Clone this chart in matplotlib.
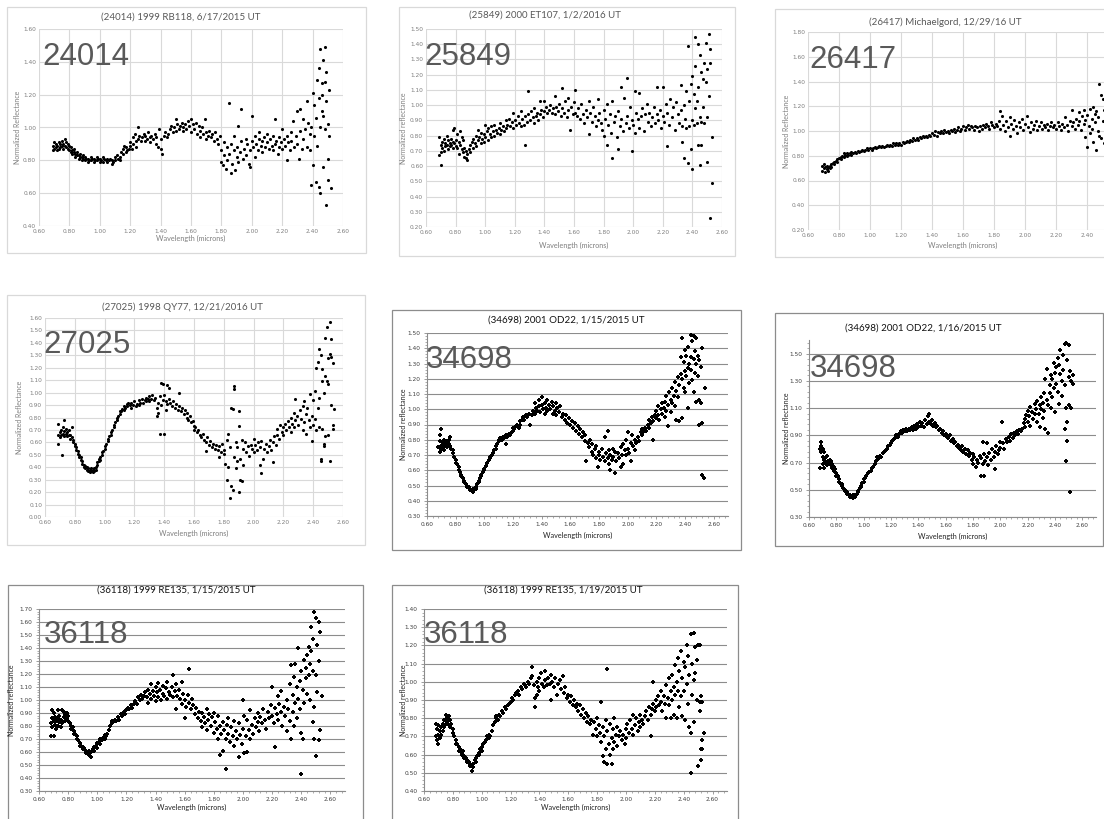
import numpy as np
import matplotlib
matplotlib.use("Agg")
import matplotlib.pyplot as plt
from matplotlib.patches import Rectangle

# ---------------------------------------------------------------------------
# Reflectance spectra (wavelength in microns, normalized reflectance)
# ---------------------------------------------------------------------------
obs_24014 = [
    (0.69,0.89),(0.69,0.86),(0.70,0.91),(0.70,0.87),(0.71,0.88),(0.71,0.90),(0.72,0.86),(0.72,0.89),(0.73,0.91),(0.73,0.87),
    (0.74,0.88),(0.74,0.90),(0.75,0.89),(0.75,0.92),(0.76,0.90),(0.76,0.87),(0.77,0.93),(0.77,0.89),(0.78,0.91),(0.78,0.88),
    (0.79,0.90),(0.79,0.87),(0.80,0.89),(0.80,0.86),(0.81,0.88),(0.81,0.85),(0.82,0.86),(0.82,0.84),(0.83,0.85),(0.83,0.87),
    (0.84,0.84),(0.84,0.82),(0.85,0.83),(0.85,0.85),(0.86,0.83),(0.86,0.81),(0.87,0.82),(0.87,0.84),(0.88,0.82),(0.88,0.80),
    (0.89,0.81),(0.89,0.83),(0.90,0.80),(0.90,0.82),(0.91,0.81),(0.92,0.79),(0.92,0.81),(0.93,0.80),(0.94,0.82),(0.94,0.80),
    (0.95,0.81),(0.96,0.79),(0.96,0.81),(0.97,0.80),(0.98,0.82),(0.98,0.80),(0.99,0.81),(1.00,0.79),(1.00,0.81),(1.01,0.80),
    (1.02,0.82),(1.02,0.79),(1.03,0.81),(1.04,0.80),(1.05,0.81),(1.05,0.79),(1.06,0.80),(1.07,0.81),(1.08,0.78),(1.08,0.80),
    (1.09,0.79),(1.10,0.82),(1.10,0.80),(1.11,0.83),(1.12,0.81),(1.13,0.82),(1.13,0.80),(1.14,0.85),(1.15,0.84),(1.15,0.87),
    (1.16,0.89),(1.17,0.85),(1.17,0.88),(1.18,0.86),(1.19,0.87),(1.20,0.89),(1.20,0.91),(1.21,0.87),(1.22,0.94),(1.22,0.90),
    (1.23,0.96),(1.24,0.92),(1.24,0.88),(1.25,1.00),(1.25,0.93),(1.26,0.95),(1.27,0.92),(1.28,0.94),(1.29,0.96),(1.30,0.92),
    (1.30,0.95),(1.31,0.93),(1.32,0.97),(1.33,0.94),(1.33,0.91),(1.34,0.95),(1.35,0.93),(1.36,0.96),(1.37,0.94),(1.37,0.90),
    (1.38,0.88),(1.39,0.99),(1.40,0.87),(1.40,0.93),(1.41,0.84),(1.42,0.95),(1.43,0.97),(1.44,0.94),(1.45,0.96),(1.46,0.99),
    (1.47,1.01),(1.48,0.97),(1.49,1.00),(1.50,1.05),(1.50,0.98),(1.51,1.02),(1.52,0.99),(1.53,1.01),(1.54,1.03),(1.55,0.98),
    (1.55,1.00),(1.56,1.02),(1.57,0.99),(1.58,1.04),(1.59,1.01),(1.60,1.05),(1.60,0.97),(1.61,1.02),(1.62,0.99),(1.63,1.03),
    (1.64,0.96),(1.65,1.01),(1.66,0.98),(1.66,0.94),(1.67,1.00),(1.68,0.96),(1.69,1.05),(1.70,0.97),(1.70,0.93),(1.71,0.95),
    (1.72,0.98),(1.73,0.94),(1.74,0.96),(1.75,0.92),(1.76,0.97),(1.77,0.93),(1.78,0.90),(1.79,0.95),(1.80,0.79),(1.80,0.86),
    (1.81,0.77),(1.82,0.83),(1.82,0.91),(1.83,0.75),(1.84,0.88),(1.84,0.80),(1.85,1.15),(1.85,0.84),(1.86,0.72),(1.86,0.90),
    (1.87,0.78),(1.88,0.86),(1.88,0.95),(1.89,0.74),(1.90,0.82),(1.90,0.88),(1.91,1.01),(1.91,0.79),(1.92,0.85),(1.93,0.92),
    (1.93,1.11),(1.94,0.81),(1.95,0.87),(1.96,0.83),(1.96,0.93),(1.97,0.90),(1.98,0.78),(1.99,0.86),(1.99,0.76),(2.00,1.07),
    (2.00,0.92),(2.01,0.88),(2.02,0.95),(2.02,0.82),(2.03,0.90),(2.04,0.86),(2.05,0.93),(2.05,0.97),(2.06,0.89),(2.07,0.92),
    (2.07,0.85),(2.08,0.94),(2.09,0.88),(2.10,0.91),(2.10,0.96),(2.11,0.87),(2.12,0.93),(2.13,0.89),(2.14,0.95),(2.14,0.86),
    (2.15,1.05),(2.15,0.90),(2.16,0.92),(2.17,0.84),(2.18,0.94),(2.18,0.88),(2.19,0.91),(2.20,0.99),(2.20,0.87),(2.21,0.93),
    (2.22,0.89),(2.23,0.80),(2.23,0.95),(2.24,0.91),(2.25,0.86),(2.26,0.97),(2.26,0.92),(2.27,1.04),(2.28,0.88),(2.29,0.95),
    (2.30,1.10),(2.30,0.90),(2.31,0.81),(2.32,0.98),(2.32,1.11),(2.33,0.87),(2.34,1.05),(2.34,0.93),(2.35,0.99),(2.36,1.16),
    (2.36,0.88),(2.37,1.03),(2.38,0.96),(2.38,0.86),(2.39,0.65),(2.39,1.00),(2.40,0.77),(2.40,1.21),(2.41,0.95),(2.41,1.14),
    (2.42,0.67),(2.42,1.06),(2.43,1.29),(2.43,0.89),(2.44,1.36),(2.44,1.18),(2.44,0.64),(2.45,1.48),(2.45,1.00),(2.45,0.60),
    (2.46,1.27),(2.46,1.10),(2.46,1.20),(2.47,1.41),(2.47,1.07),(2.47,0.76),(2.48,1.49),(2.48,1.28),(2.48,0.99),(2.49,0.53),
    (2.49,1.34),(2.49,1.16),(2.50,0.68),(2.50,1.02),(2.50,0.81),(2.51,1.23),(2.51,0.95),(2.52,0.63),
]

obs_25849 = [
    (0.69,0.79),(0.69,0.67),(0.70,0.74),(0.70,0.61),(0.70,0.69),(0.71,0.76),(0.71,0.72),(0.72,0.78),(0.72,0.70),(0.73,0.75),
    (0.73,0.73),(0.74,0.80),(0.74,0.74),(0.75,0.77),(0.75,0.71),(0.76,0.75),(0.76,0.73),(0.77,0.78),(0.77,0.74),(0.78,0.84),
    (0.78,0.76),(0.78,0.72),(0.79,0.85),(0.79,0.75),(0.80,0.73),(0.80,0.77),(0.81,0.81),(0.81,0.72),(0.82,0.76),(0.82,0.68),
    (0.83,0.83),(0.83,0.74),(0.84,0.79),(0.84,0.71),(0.85,0.69),(0.85,0.77),(0.86,0.66),(0.86,0.72),(0.87,0.65),(0.87,0.70),
    (0.88,0.64),(0.88,0.68),(0.89,0.71),(0.90,0.74),(0.90,0.69),(0.91,0.76),(0.92,0.72),(0.92,0.78),(0.93,0.75),(0.94,0.80),
    (0.94,0.73),(0.95,0.84),(0.95,0.77),(0.96,0.79),(0.97,0.75),(0.97,0.82),(0.98,0.78),(0.99,0.81),(0.99,0.76),(1.00,0.87),
    (1.00,0.79),(1.01,0.83),(1.02,0.77),(1.02,0.85),(1.03,0.81),(1.04,0.79),(1.04,0.86),(1.05,0.83),(1.06,0.80),(1.06,0.87),
    (1.07,0.84),(1.08,0.82),(1.09,0.85),(1.10,0.81),(1.10,0.88),(1.11,0.84),(1.12,0.86),(1.13,0.83),(1.14,0.90),(1.14,0.85),
    (1.15,0.87),(1.16,0.91),(1.17,0.86),(1.18,0.89),(1.19,0.95),(1.19,0.85),(1.20,0.90),(1.21,0.87),(1.22,0.93),(1.23,0.88),
    (1.24,0.96),(1.24,0.86),(1.25,0.91),(1.26,0.87),(1.27,0.74),(1.27,0.93),(1.28,0.89),(1.29,1.09),(1.29,0.94),(1.30,0.90),
    (1.31,0.96),(1.32,0.92),(1.33,0.88),(1.33,0.98),(1.34,0.93),(1.35,0.95),(1.36,0.90),(1.37,1.03),(1.37,0.94),(1.38,0.97),
    (1.39,0.92),(1.40,1.03),(1.40,0.96),(1.41,0.99),(1.42,0.95),(1.43,0.97),(1.44,1.00),(1.45,0.95),(1.46,0.98),(1.47,1.06),
    (1.47,0.94),(1.48,0.99),(1.49,0.96),(1.50,1.01),(1.51,0.93),(1.52,1.11),(1.52,0.98),(1.53,0.95),(1.54,1.03),(1.55,0.92),
    (1.56,1.05),(1.56,0.97),(1.57,0.84),(1.58,0.99),(1.59,0.94),(1.60,1.02),(1.61,1.10),(1.61,0.95),(1.62,0.93),(1.63,0.98),
    (1.64,0.91),(1.65,1.01),(1.66,0.94),(1.67,0.88),(1.68,0.97),(1.69,0.92),(1.70,1.03),(1.70,0.81),(1.71,0.95),(1.72,0.89),
    (1.73,0.99),(1.74,0.93),(1.75,0.86),(1.76,1.04),(1.76,0.90),(1.77,0.95),(1.78,0.88),(1.79,0.84),(1.80,0.97),(1.80,0.80),
    (1.81,0.91),(1.82,0.74),(1.82,1.01),(1.83,0.87),(1.84,0.94),(1.85,0.82),(1.86,1.03),(1.86,0.65),(1.87,0.89),(1.88,0.93),
    (1.89,0.79),(1.90,0.96),(1.90,0.71),(1.91,0.86),(1.92,1.12),(1.92,0.91),(1.93,0.83),(1.94,1.05),(1.95,0.88),(1.96,1.18),
    (1.96,0.93),(1.97,0.85),(1.98,0.99),(1.99,0.70),(1.99,0.90),(2.00,0.87),(2.01,1.09),(2.01,0.82),(2.02,0.95),(2.03,0.91),
    (2.04,1.08),(2.04,0.85),(2.05,0.93),(2.06,0.98),(2.07,0.83),(2.08,0.94),(2.09,1.01),(2.10,0.89),(2.11,0.95),(2.12,0.86),
    (2.13,0.92),(2.14,0.99),(2.15,0.88),(2.16,1.12),(2.16,0.94),(2.17,0.90),(2.18,0.97),(2.19,0.85),(2.20,1.12),(2.20,0.93),
    (2.21,0.89),(2.22,1.01),(2.23,0.73),(2.23,0.95),(2.24,0.87),(2.25,1.04),(2.26,0.92),(2.27,0.99),(2.28,0.84),(2.29,1.02),
    (2.30,0.94),(2.31,0.88),(2.32,1.13),(2.32,0.97),(2.33,0.76),(2.33,0.86),(2.34,0.65),(2.34,1.00),(2.35,0.91),(2.36,1.09),
    (2.36,0.85),(2.37,1.39),(2.37,0.62),(2.38,1.03),(2.38,0.86),(2.39,1.14),(2.39,0.71),(2.40,0.58),(2.40,1.19),(2.40,0.90),
    (2.41,1.07),(2.41,0.87),(2.42,1.45),(2.42,1.26),(2.42,0.98),(2.43,1.03),(2.43,0.88),(2.44,1.40),(2.44,0.74),(2.44,1.12),
    (2.45,0.61),(2.45,1.33),(2.45,0.92),(2.46,1.22),(2.46,0.89),(2.46,0.74),(2.47,1.17),(2.47,0.99),(2.48,1.28),(2.48,0.88),
    (2.49,1.41),(2.49,1.15),(2.50,0.63),(2.50,1.24),(2.50,0.92),(2.51,1.47),(2.51,1.06),(2.52,1.37),(2.52,0.26),(2.52,1.28),
    (2.53,0.79),(2.53,0.49),
]

obs_26417 = [
    (0.69,0.68),(0.69,0.72),(0.70,0.70),(0.70,0.73),(0.71,0.67),(0.71,0.71),(0.72,0.69),(0.72,0.72),(0.73,0.71),(0.73,0.68),
    (0.74,0.72),(0.74,0.70),(0.75,0.73),(0.75,0.71),(0.76,0.74),(0.77,0.73),(0.77,0.75),(0.78,0.76),(0.79,0.75),(0.79,0.77),
    (0.80,0.78),(0.81,0.77),(0.81,0.79),(0.82,0.80),(0.83,0.79),(0.83,0.82),(0.84,0.81),(0.85,0.80),(0.85,0.82),(0.86,0.81),
    (0.87,0.82),(0.88,0.81),(0.88,0.83),(0.89,0.82),(0.90,0.83),(0.91,0.82),(0.92,0.84),(0.93,0.83),(0.94,0.84),(0.95,0.85),
    (0.96,0.84),(0.97,0.85),(0.98,0.86),(0.99,0.85),(1.00,0.86),(1.01,0.85),(1.02,0.86),(1.03,0.87),(1.04,0.86),(1.05,0.87),
    (1.06,0.88),(1.07,0.87),(1.08,0.88),(1.09,0.87),(1.10,0.88),(1.11,0.89),(1.12,0.88),(1.13,0.89),(1.14,0.88),(1.15,0.90),
    (1.16,0.89),(1.17,0.90),(1.18,0.89),(1.19,0.90),(1.20,0.89),(1.21,0.91),(1.22,0.90),(1.23,0.91),(1.24,0.92),(1.25,0.91),
    (1.26,0.93),(1.27,0.92),(1.28,0.94),(1.29,0.93),(1.30,0.94),(1.31,0.93),(1.32,0.95),(1.33,0.94),(1.34,0.96),(1.35,0.95),
    (1.36,0.96),(1.37,0.95),(1.38,0.97),(1.39,0.96),(1.40,0.98),(1.41,0.97),(1.42,1.00),(1.43,0.96),(1.44,0.99),(1.45,0.98),
    (1.46,1.00),(1.47,0.98),(1.48,1.01),(1.49,0.99),(1.50,1.00),(1.51,0.98),(1.52,1.01),(1.53,1.00),(1.54,1.02),(1.55,0.99),
    (1.56,1.01),(1.57,1.03),(1.58,1.00),(1.59,1.02),(1.60,1.04),(1.61,1.01),(1.62,1.03),(1.63,1.05),(1.64,1.02),(1.65,1.04),
    (1.66,1.03),(1.67,1.01),(1.68,1.04),(1.69,1.03),(1.70,1.00),(1.71,1.04),(1.72,1.02),(1.73,1.05),(1.74,1.03),(1.75,1.06),
    (1.76,1.04),(1.77,1.02),(1.78,1.07),(1.79,1.05),(1.80,1.03),(1.81,1.06),(1.82,1.04),(1.83,1.08),(1.84,1.16),(1.84,1.02),
    (1.85,1.12),(1.86,1.05),(1.87,1.00),(1.88,1.08),(1.89,1.03),(1.90,1.11),(1.90,0.96),(1.91,1.06),(1.92,1.02),(1.93,1.09),
    (1.94,1.04),(1.95,0.98),(1.96,1.07),(1.97,1.03),(1.98,1.10),(1.99,1.01),(2.00,1.06),(2.01,1.12),(2.02,1.03),(2.03,0.99),
    (2.04,1.07),(2.05,1.02),(2.06,1.05),(2.07,1.08),(2.08,1.01),(2.09,1.04),(2.10,1.07),(2.11,1.02),(2.12,1.05),(2.13,1.03),
    (2.14,1.06),(2.15,1.01),(2.16,1.04),(2.17,1.07),(2.18,1.03),(2.19,1.05),(2.20,1.02),(2.21,1.07),(2.22,1.04),(2.23,1.01),
    (2.24,1.06),(2.25,1.03),(2.26,1.11),(2.27,1.05),(2.28,1.00),(2.29,1.08),(2.30,1.17),(2.30,1.04),(2.31,1.07),(2.32,1.02),
    (2.33,1.10),(2.34,1.05),(2.35,1.15),(2.35,1.08),(2.36,1.01),(2.37,1.12),(2.38,1.06),(2.38,1.17),(2.39,0.95),(2.39,1.09),
    (2.40,0.87),(2.40,1.13),(2.41,1.04),(2.42,1.18),(2.42,0.98),(2.43,1.10),(2.43,1.02),(2.44,1.19),(2.44,0.91),(2.45,1.07),
    (2.45,1.14),(2.46,0.85),(2.46,1.16),(2.47,1.00),(2.47,1.11),(2.48,1.38),(2.48,0.96),(2.49,1.29),(2.49,0.94),(2.50,1.26),
    (2.50,1.08),(2.51,1.17),(2.51,0.90),(2.52,1.20),(2.52,0.96),(2.53,0.79),(2.53,0.67),(2.52,0.45),
]

obs_27025 = [
    (0.69,0.75),(0.69,0.66),(0.69,0.59),(0.70,0.68),(0.70,0.64),(0.71,0.70),(0.71,0.66),(0.715,0.50),(0.72,0.72),(0.72,0.67),
    (0.73,0.78),(0.73,0.69),(0.73,0.65),(0.74,0.71),(0.74,0.67),(0.75,0.68),(0.75,0.65),(0.76,0.70),(0.76,0.66),(0.77,0.66),
    (0.77,0.63),(0.78,0.72),(0.78,0.64),(0.79,0.62),(0.79,0.60),(0.80,0.59),(0.80,0.57),(0.81,0.56),(0.81,0.54),(0.82,0.53),
    (0.82,0.51),(0.83,0.50),(0.83,0.48),(0.84,0.48),(0.84,0.46),(0.85,0.45),(0.85,0.43),(0.86,0.42),(0.86,0.40),(0.87,0.41),
    (0.87,0.39),(0.88,0.40),(0.88,0.38),(0.89,0.39),(0.89,0.37),(0.90,0.38),(0.90,0.36),(0.91,0.39),(0.91,0.37),(0.92,0.38),
    (0.92,0.36),(0.93,0.39),(0.93,0.37),(0.94,0.40),(0.94,0.38),(0.95,0.42),(0.95,0.44),(0.96,0.45),(0.96,0.47),(0.97,0.48),
    (0.97,0.46),(0.98,0.50),(0.98,0.52),(0.99,0.53),(1.00,0.55),(1.00,0.57),(1.01,0.59),(1.02,0.61),(1.02,0.63),(1.03,0.65),
    (1.04,0.66),(1.04,0.68),(1.05,0.70),(1.06,0.72),(1.06,0.74),(1.07,0.76),(1.08,0.78),(1.08,0.80),(1.09,0.81),(1.10,0.83),
    (1.10,0.85),(1.11,0.85),(1.12,0.87),(1.13,0.86),(1.13,0.89),(1.14,0.88),(1.15,0.91),(1.15,0.89),(1.16,0.92),(1.17,0.90),
    (1.18,0.88),(1.18,0.92),(1.19,0.90),(1.20,0.93),(1.21,0.89),(1.22,0.91),(1.23,0.94),(1.23,0.90),(1.24,0.92),(1.25,0.95),
    (1.26,0.92),(1.27,0.94),(1.28,0.96),(1.28,0.93),(1.29,0.95),(1.30,0.97),(1.30,0.93),(1.31,0.95),(1.32,0.98),(1.33,0.94),
    (1.34,0.96),(1.35,0.81),(1.35,0.88),(1.36,0.84),(1.36,0.92),(1.37,0.67),(1.37,0.97),(1.38,1.08),(1.38,0.90),(1.39,1.07),
    (1.39,0.94),(1.40,0.67),(1.40,0.98),(1.41,0.86),(1.41,0.93),(1.42,1.06),(1.42,0.91),(1.43,1.04),(1.43,0.95),(1.44,0.92),
    (1.45,0.89),(1.46,0.93),(1.47,0.88),(1.48,0.91),(1.49,0.86),(1.50,1.00),(1.50,0.89),(1.51,0.85),(1.52,0.88),(1.53,0.83),
    (1.54,0.86),(1.55,0.80),(1.55,0.84),(1.56,0.78),(1.57,0.81),(1.58,0.76),(1.59,0.77),(1.60,0.73),(1.60,0.70),(1.61,0.72),
    (1.62,0.68),(1.63,0.70),(1.64,0.66),(1.65,0.64),(1.66,0.67),(1.67,0.62),(1.68,0.53),(1.68,0.60),(1.69,0.64),(1.70,0.58),
    (1.71,0.61),(1.72,0.56),(1.73,0.59),(1.74,0.55),(1.75,0.58),(1.76,0.54),(1.77,0.48),(1.77,0.57),(1.78,0.52),(1.79,0.59),
    (1.80,0.54),(1.80,0.51),(1.81,0.43),(1.82,0.30),(1.82,0.62),(1.83,0.67),(1.83,0.40),(1.84,0.15),(1.84,0.56),(1.85,0.25),
    (1.85,0.88),(1.86,0.22),(1.86,0.87),(1.87,1.03),(1.87,0.48),(1.87,1.05),(1.88,0.39),(1.88,0.60),(1.89,0.45),(1.89,0.56),
    (1.90,0.85),(1.90,0.20),(1.90,0.73),(1.91,0.30),(1.91,0.47),(1.92,0.29),(1.92,0.62),(1.93,0.42),(1.93,0.55),(1.94,0.60),
    (1.95,0.52),(1.96,0.57),(1.97,0.49),(1.98,0.58),(1.99,0.55),(2.00,0.63),(2.00,0.52),(2.01,0.58),(2.02,0.54),(2.03,0.60),
    (2.04,0.42),(2.04,0.56),(2.05,0.35),(2.05,0.61),(2.06,0.47),(2.07,0.55),(2.08,0.59),(2.09,0.52),(2.10,0.57),(2.11,0.62),
    (2.12,0.54),(2.13,0.44),(2.13,0.60),(2.14,0.65),(2.15,0.58),(2.16,0.66),(2.16,0.71),(2.17,0.63),(2.18,0.74),(2.19,0.68),
    (2.20,0.72),(2.20,0.66),(2.21,0.75),(2.22,0.70),(2.23,0.77),(2.24,0.72),(2.25,0.80),(2.25,0.68),(2.26,0.75),(2.27,0.84),
    (2.27,0.72),(2.28,0.95),(2.28,0.78),(2.29,0.81),(2.30,0.74),(2.31,0.86),(2.32,0.79),(2.33,0.89),(2.33,0.70),(2.34,0.93),
    (2.34,0.76),(2.35,0.83),(2.35,0.67),(2.36,0.88),(2.37,0.78),(2.38,0.72),(2.38,0.99),(2.39,0.81),(2.39,0.61),(2.40,0.94),
    (2.40,0.74),(2.41,1.01),(2.41,0.79),(2.42,1.20),(2.42,0.70),(2.43,1.25),(2.43,0.88),(2.44,1.35),(2.44,0.96),(2.44,0.72),
    (2.45,1.30),(2.45,0.47),(2.45,0.45),(2.46,1.09),(2.46,1.19),(2.46,0.71),(2.47,1.00),(2.47,0.59),(2.47,0.57),(2.48,1.44),
    (2.48,1.13),(2.48,0.65),(2.49,1.53),(2.49,1.09),(2.50,1.28),(2.50,1.07),(2.50,0.66),(2.51,1.57),(2.51,1.31),(2.51,0.45),
    (2.52,1.43),(2.52,1.29),(2.52,0.90),(2.53,1.24),(2.53,0.74),(2.53,0.71),(2.54,0.87),
]

obs_34698_a = [
    (0.68,0.75),(0.69,0.79),(0.69,0.72),(0.69,0.83),(0.70,0.87),(0.70,0.76),(0.70,0.74),(0.71,0.78),(0.71,0.75),(0.72,0.77),
    (0.72,0.73),(0.72,0.80),(0.73,0.76),(0.73,0.79),(0.74,0.75),(0.74,0.78),(0.75,0.77),(0.75,0.80),(0.76,0.82),(0.76,0.76),
    (0.77,0.74),(0.78,0.71),(0.78,0.73),(0.79,0.69),(0.80,0.67),(0.80,0.65),(0.81,0.64),(0.82,0.62),(0.82,0.60),(0.83,0.59),
    (0.84,0.57),(0.84,0.56),(0.85,0.55),(0.86,0.53),(0.86,0.52),(0.87,0.51),(0.88,0.50),(0.88,0.49),(0.89,0.49),(0.90,0.48),
    (0.90,0.47),(0.91,0.47),(0.92,0.46),(0.92,0.48),(0.93,0.47),(0.94,0.49),(0.94,0.48),(0.95,0.51),(0.96,0.53),(0.96,0.52),
    (0.97,0.55),(0.98,0.57),(0.98,0.56),(0.99,0.59),(1.00,0.61),(1.00,0.60),(1.01,0.63),(1.02,0.65),(1.03,0.67),(1.04,0.69),
    (1.04,0.68),(1.05,0.70),(1.06,0.71),(1.07,0.73),(1.08,0.76),(1.08,0.74),(1.09,0.77),(1.10,0.79),(1.10,0.80),(1.11,0.81),
    (1.12,0.80),(1.13,0.82),(1.14,0.81),(1.15,0.77),(1.15,0.83),(1.16,0.82),(1.17,0.84),(1.18,0.83),(1.19,0.85),(1.20,0.86),
    (1.20,0.88),(1.21,0.87),(1.22,0.89),(1.23,0.90),(1.24,0.88),(1.25,0.92),(1.25,0.90),(1.26,0.93),(1.27,0.95),(1.28,0.93),
    (1.29,0.96),(1.30,0.95),(1.31,0.97),(1.32,0.90),(1.33,0.96),(1.34,0.99),(1.35,1.04),(1.35,0.97),(1.36,1.01),(1.37,0.99),
    (1.38,1.06),(1.38,1.02),(1.39,0.98),(1.40,1.08),(1.40,1.03),(1.41,1.00),(1.42,0.97),(1.42,1.04),(1.43,1.01),(1.44,1.06),
    (1.44,0.99),(1.45,1.03),(1.46,1.00),(1.47,1.05),(1.48,0.97),(1.48,1.02),(1.49,0.99),(1.50,1.04),(1.50,0.96),(1.51,1.01),
    (1.52,0.98),(1.53,1.02),(1.54,0.95),(1.55,0.97),(1.56,0.93),(1.57,0.96),(1.58,0.91),(1.59,0.94),(1.60,0.90),(1.61,0.92),
    (1.62,0.88),(1.63,0.91),(1.64,0.86),(1.65,0.89),(1.66,0.84),(1.67,0.87),(1.68,0.82),(1.69,0.85),(1.70,0.79),(1.70,0.83),
    (1.71,0.66),(1.72,0.78),(1.73,0.75),(1.74,0.80),(1.75,0.72),(1.75,0.77),(1.76,0.70),(1.77,0.74),(1.78,0.68),(1.78,0.76),
    (1.79,0.62),(1.80,0.72),(1.80,0.70),(1.81,0.67),(1.82,0.74),(1.83,0.69),(1.84,0.82),(1.84,0.66),(1.85,0.71),(1.86,0.86),
    (1.86,0.68),(1.87,0.64),(1.87,0.73),(1.88,0.60),(1.88,0.70),(1.89,0.67),(1.90,0.74),(1.90,0.69),(1.91,0.58),(1.91,0.72),
    (1.92,0.66),(1.93,0.71),(1.94,0.68),(1.95,0.75),(1.95,0.62),(1.96,0.70),(1.97,0.77),(1.97,0.64),(1.98,0.73),(1.99,0.80),
    (1.99,0.70),(2.00,0.85),(2.00,0.74),(2.01,0.71),(2.02,0.78),(2.02,0.66),(2.03,0.83),(2.04,0.76),(2.05,0.80),(2.05,0.73),
    (2.06,0.78),(2.07,0.82),(2.08,0.79),(2.09,0.85),(2.10,0.83),(2.10,0.87),(2.11,0.85),(2.12,0.88),(2.13,0.86),(2.14,0.90),
    (2.15,0.88),(2.15,0.93),(2.16,0.91),(2.17,0.95),(2.18,0.92),(2.18,0.80),(2.19,0.96),(2.20,0.94),(2.20,0.99),(2.21,1.02),
    (2.21,0.96),(2.22,0.93),(2.23,1.00),(2.24,0.97),(2.24,1.04),(2.25,1.01),(2.26,0.95),(2.26,1.05),(2.27,0.99),(2.27,1.09),
    (2.28,1.03),(2.28,0.89),(2.29,1.11),(2.30,1.06),(2.30,0.98),(2.31,1.14),(2.31,1.04),(2.32,1.09),(2.33,1.18),(2.33,1.02),
    (2.34,1.12),(2.34,0.93),(2.35,1.21),(2.35,1.08),(2.36,1.16),(2.36,0.92),(2.37,1.34),(2.37,1.23),(2.38,1.47),(2.38,1.20),
    (2.38,0.94),(2.39,1.31),(2.39,1.14),(2.40,1.39),(2.40,1.25),(2.40,1.11),(2.41,1.22),(2.41,1.35),(2.42,1.41),(2.42,1.27),
    (2.42,1.01),(2.43,1.30),(2.43,1.17),(2.44,1.49),(2.44,1.34),(2.44,1.26),(2.45,1.45),(2.45,1.19),(2.46,1.48),(2.46,1.33),
    (2.46,1.11),(2.47,1.38),(2.47,1.24),(2.48,1.47),(2.48,1.30),(2.48,1.05),(2.49,1.35),(2.49,1.22),(2.50,1.32),(2.50,0.90),
    (2.50,1.06),(2.51,1.28),(2.51,1.04),(2.52,1.40),(2.52,0.91),(2.52,0.57),(2.53,0.55),(2.54,1.14),
]

obs_34698_b = [
    (0.68,0.80),(0.68,0.66),(0.69,0.82),(0.69,0.78),(0.69,0.85),(0.70,0.80),(0.70,0.74),(0.70,0.69),(0.71,0.78),(0.71,0.72),
    (0.71,0.66),(0.72,0.73),(0.72,0.70),(0.73,0.75),(0.73,0.68),(0.74,0.71),(0.74,0.69),(0.75,0.72),(0.75,0.70),(0.76,0.68),
    (0.76,0.71),(0.77,0.66),(0.77,0.69),(0.78,0.67),(0.78,0.64),(0.79,0.65),(0.80,0.62),(0.80,0.60),(0.81,0.60),(0.82,0.58),
    (0.82,0.56),(0.83,0.55),(0.84,0.53),(0.84,0.54),(0.85,0.51),(0.86,0.50),(0.86,0.49),(0.87,0.48),(0.88,0.47),(0.88,0.48),
    (0.89,0.46),(0.90,0.46),(0.90,0.45),(0.91,0.45),(0.92,0.44),(0.92,0.46),(0.93,0.45),(0.94,0.45),(0.94,0.46),(0.95,0.47),
    (0.96,0.48),(0.96,0.49),(0.97,0.51),(0.98,0.52),(0.98,0.53),(0.99,0.55),(1.00,0.56),(1.00,0.58),(1.01,0.59),(1.02,0.60),
    (1.03,0.62),(1.04,0.63),(1.05,0.64),(1.06,0.66),(1.07,0.67),(1.08,0.69),(1.09,0.71),(1.10,0.72),(1.10,0.74),(1.11,0.73),
    (1.12,0.75),(1.13,0.74),(1.14,0.77),(1.15,0.78),(1.16,0.79),(1.17,0.80),(1.18,0.82),(1.19,0.83),(1.20,0.84),(1.21,0.86),
    (1.22,0.87),(1.23,0.88),(1.24,0.90),(1.25,0.89),(1.26,0.91),(1.27,0.93),(1.28,0.92),(1.29,0.94),(1.30,0.93),(1.31,0.95),
    (1.32,0.93),(1.33,0.95),(1.34,0.94),(1.35,0.96),(1.36,0.94),(1.37,0.97),(1.38,0.95),(1.39,0.98),(1.40,0.96),(1.41,1.00),
    (1.42,0.97),(1.43,0.99),(1.44,0.96),(1.45,1.01),(1.46,0.98),(1.47,1.04),(1.48,1.06),(1.48,1.00),(1.49,0.98),(1.50,1.01),
    (1.51,0.97),(1.52,0.99),(1.53,0.96),(1.54,0.97),(1.55,0.94),(1.56,0.95),(1.57,0.92),(1.58,0.93),(1.59,0.90),(1.60,0.91),
    (1.61,0.89),(1.62,0.88),(1.63,0.90),(1.64,0.86),(1.65,0.87),(1.66,0.84),(1.67,0.85),(1.68,0.82),(1.69,0.83),(1.70,0.81),
    (1.71,0.79),(1.72,0.82),(1.73,0.78),(1.74,0.80),(1.75,0.76),(1.76,0.79),(1.77,0.75),(1.78,0.77),(1.79,0.72),(1.80,0.76),
    (1.80,0.69),(1.81,0.74),(1.82,0.67),(1.83,0.72),(1.84,0.70),(1.85,0.75),(1.86,0.60),(1.86,0.73),(1.87,0.85),(1.87,0.69),
    (1.88,0.60),(1.88,0.76),(1.89,0.71),(1.90,0.84),(1.90,0.74),(1.91,0.68),(1.92,0.77),(1.93,0.72),(1.94,0.80),(1.95,0.74),
    (1.96,0.65),(1.96,0.78),(1.97,0.82),(1.98,0.76),(1.99,0.79),(2.00,0.85),(2.00,0.81),(2.01,1.00),(2.02,0.84),(2.03,0.80),
    (2.04,0.87),(2.05,0.85),(2.06,0.89),(2.07,0.86),(2.08,0.91),(2.09,0.88),(2.10,0.92),(2.11,0.90),(2.12,0.93),(2.13,0.91),
    (2.14,0.94),(2.15,0.93),(2.16,0.95),(2.17,0.99),(2.18,1.02),(2.18,0.96),(2.19,1.05),(2.20,1.08),(2.20,1.00),(2.21,1.04),
    (2.22,1.11),(2.22,0.97),(2.23,1.07),(2.24,1.02),(2.25,1.13),(2.25,1.06),(2.26,1.09),(2.27,1.00),(2.27,1.15),(2.28,1.06),
    (2.29,1.12),(2.29,0.96),(2.30,1.18),(2.30,1.09),(2.31,1.14),(2.31,1.03),(2.32,1.21),(2.32,1.08),(2.33,0.95),(2.33,1.31),
    (2.34,1.16),(2.34,1.39),(2.35,1.12),(2.35,0.92),(2.36,1.27),(2.36,1.21),(2.37,1.34),(2.37,1.10),(2.38,1.31),(2.38,1.18),
    (2.39,1.43),(2.39,1.25),(2.40,1.07),(2.40,1.36),(2.41,1.40),(2.41,1.28),(2.42,1.47),(2.42,1.22),(2.43,1.42),(2.43,1.13),
    (2.44,1.53),(2.44,1.35),(2.45,1.30),(2.45,1.19),(2.46,1.49),(2.46,1.38),(2.47,1.57),(2.47,1.27),(2.47,0.95),(2.48,1.58),
    (2.48,0.71),(2.48,1.10),(2.49,1.45),(2.49,0.86),(2.49,1.00),(2.50,1.56),(2.50,1.33),(2.50,1.12),(2.51,1.37),(2.51,0.48),
    (2.52,1.30),(2.52,1.10),(2.53,1.34),(2.53,1.28),
]

obs_36118_a = [
    (0.68,0.82),(0.68,0.72),(0.69,0.92),(0.69,0.86),(0.69,0.79),(0.70,0.84),(0.70,0.72),(0.70,0.90),(0.71,0.81),(0.71,0.87),
    (0.72,0.84),(0.72,0.78),(0.73,0.92),(0.73,0.86),(0.73,0.80),(0.74,0.83),(0.74,0.88),(0.75,0.79),(0.75,0.85),(0.76,0.92),
    (0.76,0.82),(0.77,0.87),(0.77,0.91),(0.78,0.84),(0.78,0.89),(0.79,0.90),(0.79,0.86),(0.80,0.88),(0.80,0.84),(0.81,0.82),
    (0.82,0.80),(0.82,0.78),(0.83,0.79),(0.84,0.76),(0.84,0.74),(0.85,0.74),(0.86,0.72),(0.86,0.70),(0.87,0.69),(0.88,0.67),
    (0.88,0.65),(0.89,0.65),(0.90,0.64),(0.90,0.62),(0.91,0.63),(0.92,0.61),(0.92,0.59),(0.93,0.60),(0.94,0.58),(0.94,0.61),
    (0.95,0.59),(0.96,0.56),(0.96,0.60),(0.97,0.62),(0.98,0.61),(0.98,0.64),(0.99,0.65),(1.00,0.67),(1.00,0.63),(1.01,0.68),
    (1.02,0.70),(1.02,0.66),(1.03,0.69),(1.04,0.71),(1.05,0.70),(1.05,0.73),(1.06,0.72),(1.07,0.74),(1.08,0.77),(1.09,0.80),
    (1.10,0.82),(1.10,0.84),(1.11,0.83),(1.12,0.85),(1.13,0.84),(1.14,0.87),(1.15,0.85),(1.16,0.89),(1.17,0.88),(1.18,0.91),
    (1.19,0.89),(1.20,0.92),(1.21,0.94),(1.22,0.93),(1.23,0.96),(1.24,0.94),(1.25,0.97),(1.26,0.99),(1.27,0.97),(1.28,1.02),
    (1.29,1.00),(1.30,1.04),(1.31,1.01),(1.32,1.03),(1.33,1.06),(1.34,1.02),(1.35,1.08),(1.35,0.98),(1.36,1.05),(1.37,1.12),
    (1.37,1.01),(1.38,1.07),(1.39,1.03),(1.40,1.10),(1.40,0.99),(1.41,1.06),(1.42,1.13),(1.42,1.02),(1.43,1.08),(1.44,1.00),
    (1.45,1.11),(1.45,1.05),(1.46,1.03),(1.47,1.09),(1.48,1.14),(1.48,1.01),(1.49,1.06),(1.50,1.04),(1.51,1.10),(1.52,1.19),
    (1.52,1.02),(1.53,1.07),(1.54,0.93),(1.54,1.12),(1.55,1.03),(1.56,1.08),(1.57,1.01),(1.58,1.14),(1.58,0.97),(1.59,1.05),
    (1.60,0.86),(1.60,1.00),(1.61,0.95),(1.62,1.04),(1.63,1.24),(1.63,0.98),(1.64,0.93),(1.65,1.01),(1.66,0.96),(1.67,0.89),
    (1.68,0.94),(1.69,0.86),(1.70,0.91),(1.71,0.84),(1.72,0.90),(1.72,0.79),(1.73,0.87),(1.74,0.82),(1.75,0.93),(1.75,0.77),
    (1.76,0.85),(1.77,0.89),(1.78,0.80),(1.79,0.87),(1.80,0.75),(1.80,0.90),(1.81,0.83),(1.82,0.78),(1.83,0.70),(1.83,0.88),
    (1.84,0.58),(1.84,0.80),(1.85,0.74),(1.86,0.83),(1.86,0.61),(1.87,0.77),(1.88,0.47),(1.88,0.70),(1.89,0.81),(1.90,0.74),
    (1.90,0.86),(1.91,0.68),(1.92,0.79),(1.93,0.72),(1.94,0.84),(1.94,0.65),(1.95,0.76),(1.96,0.70),(1.97,0.56),(1.97,0.82),
    (1.98,0.73),(1.99,0.66),(2.00,1.00),(2.00,0.78),(2.01,0.59),(2.01,0.88),(2.02,0.72),(2.03,0.60),(2.03,0.85),(2.04,0.77),
    (2.05,0.92),(2.05,0.70),(2.06,0.81),(2.07,0.74),(2.08,0.86),(2.09,0.79),(2.10,0.90),(2.10,0.83),(2.11,0.76),(2.12,0.87),
    (2.13,0.82),(2.14,0.93),(2.15,0.85),(2.16,0.78),(2.17,0.91),(2.18,0.86),(2.19,0.96),(2.20,1.10),(2.20,0.88),(2.21,0.82),
    (2.22,0.64),(2.22,0.94),(2.23,0.89),(2.24,1.03),(2.24,0.85),(2.25,0.97),(2.26,1.07),(2.26,0.91),(2.27,0.80),(2.28,0.95),
    (2.29,0.88),(2.30,1.00),(2.30,0.76),(2.31,0.93),(2.32,1.12),(2.32,0.84),(2.33,0.70),(2.33,1.27),(2.34,1.04),(2.34,0.91),
    (2.35,1.18),(2.35,0.80),(2.36,1.28),(2.36,0.98),(2.37,1.10),(2.37,0.86),(2.38,1.40),(2.38,1.01),(2.39,1.15),(2.39,0.93),
    (2.40,0.43),(2.40,1.22),(2.40,0.75),(2.41,1.08),(2.41,0.70),(2.42,1.31),(2.42,0.98),(2.43,1.17),(2.43,1.25),(2.44,1.35),
    (2.44,1.05),(2.45,1.41),(2.45,1.19),(2.46,1.28),(2.46,1.00),(2.47,1.56),(2.47,1.38),(2.48,1.47),(2.48,0.83),(2.48,1.22),
    (2.49,1.68),(2.49,0.95),(2.49,0.70),(2.50,1.63),(2.50,1.19),(2.50,0.57),(2.51,1.42),(2.51,1.06),(2.52,1.60),(2.52,1.30),
    (2.52,0.69),(2.53,1.52),(2.53,0.77),(2.54,1.03),
]

obs_36118_b = [
    (0.68,0.77),(0.68,0.70),(0.69,0.74),(0.69,0.68),(0.70,0.76),(0.70,0.71),(0.70,0.66),(0.71,0.73),(0.71,0.69),(0.72,0.75),
    (0.72,0.71),(0.73,0.77),(0.73,0.73),(0.74,0.79),(0.74,0.75),(0.75,0.82),(0.75,0.77),(0.76,0.80),(0.76,0.78),(0.77,0.81),
    (0.77,0.76),(0.78,0.79),(0.78,0.75),(0.79,0.77),(0.80,0.74),(0.80,0.72),(0.81,0.70),(0.82,0.68),(0.82,0.66),(0.83,0.66),
    (0.84,0.64),(0.84,0.62),(0.85,0.63),(0.86,0.61),(0.86,0.60),(0.87,0.62),(0.88,0.59),(0.88,0.58),(0.89,0.58),(0.90,0.57),
    (0.90,0.56),(0.91,0.56),(0.92,0.55),(0.92,0.54),(0.93,0.51),(0.94,0.55),(0.94,0.53),(0.95,0.57),(0.96,0.56),(0.96,0.58),
    (0.97,0.59),(0.98,0.61),(0.98,0.60),(0.99,0.63),(1.00,0.64),(1.00,0.62),(1.01,0.66),(1.02,0.67),(1.03,0.68),(1.04,0.70),
    (1.05,0.69),(1.05,0.71),(1.06,0.70),(1.07,0.73),(1.08,0.76),(1.09,0.78),(1.10,0.80),(1.10,0.81),(1.11,0.79),(1.12,0.82),
    (1.13,0.81),(1.14,0.84),(1.15,0.83),(1.16,0.86),(1.17,0.85),(1.18,0.87),(1.19,0.88),(1.20,0.89),(1.21,0.91),(1.22,0.90),
    (1.23,0.93),(1.24,0.94),(1.25,0.95),(1.26,0.93),(1.27,0.97),(1.28,0.96),(1.29,0.99),(1.30,0.98),(1.31,0.97),(1.32,1.00),
    (1.33,0.99),(1.34,1.02),(1.35,1.08),(1.35,1.03),(1.36,0.98),(1.37,0.86),(1.37,0.91),(1.38,1.00),(1.38,0.93),(1.39,0.97),
    (1.40,1.02),(1.40,0.95),(1.41,1.05),(1.42,0.99),(1.43,0.97),(1.44,1.06),(1.44,1.01),(1.45,0.98),(1.46,1.02),(1.47,0.99),
    (1.48,1.04),(1.48,0.90),(1.49,1.00),(1.50,0.97),(1.51,1.02),(1.52,0.93),(1.53,0.99),(1.54,1.01),(1.55,0.96),(1.56,1.03),
    (1.57,0.94),(1.58,0.97),(1.59,0.91),(1.60,0.93),(1.61,0.89),(1.62,0.92),(1.63,0.87),(1.64,0.90),(1.65,0.86),(1.66,0.88),
    (1.67,0.84),(1.68,0.87),(1.69,0.82),(1.70,0.85),(1.71,0.80),(1.72,0.83),(1.73,0.78),(1.74,0.81),(1.75,0.77),(1.76,0.79),
    (1.77,0.71),(1.78,0.78),(1.79,0.74),(1.80,0.80),(1.80,0.70),(1.81,0.76),(1.82,0.72),(1.83,0.89),(1.83,0.67),(1.84,0.59),
    (1.84,0.75),(1.85,0.56),(1.85,0.70),(1.86,0.63),(1.86,0.79),(1.87,1.07),(1.87,0.55),(1.87,0.73),(1.88,0.66),(1.89,0.60),
    (1.89,0.77),(1.90,0.55),(1.90,0.69),(1.91,0.74),(1.91,0.63),(1.92,0.80),(1.92,0.67),(1.93,0.71),(1.94,0.75),(1.94,0.65),
    (1.95,0.70),(1.96,0.73),(1.97,0.68),(1.98,0.71),(1.99,0.66),(2.00,0.74),(2.00,0.69),(2.01,0.77),(2.02,0.72),(2.03,0.79),
    (2.04,0.74),(2.05,0.82),(2.05,0.71),(2.06,0.76),(2.07,0.80),(2.08,0.73),(2.09,0.78),(2.10,0.82),(2.10,0.75),(2.11,0.79),
    (2.12,0.77),(2.13,0.81),(2.14,0.84),(2.15,0.79),(2.16,0.86),(2.17,0.82),(2.17,0.70),(2.18,0.85),(2.19,0.88),(2.19,1.00),
    (2.20,0.84),(2.21,0.90),(2.21,0.86),(2.22,0.92),(2.23,0.87),(2.24,0.95),(2.24,0.89),(2.25,0.84),(2.26,0.92),(2.27,0.88),
    (2.28,0.98),(2.28,0.80),(2.29,0.91),(2.30,1.02),(2.30,0.87),(2.31,0.95),(2.31,0.80),(2.32,1.04),(2.32,0.90),(2.33,0.97),
    (2.33,0.82),(2.34,1.09),(2.34,0.93),(2.35,1.00),(2.35,0.80),(2.36,1.13),(2.36,0.95),(2.37,1.06),(2.37,0.86),(2.38,1.17),
    (2.38,0.92),(2.39,1.02),(2.39,0.81),(2.40,1.11),(2.40,0.95),(2.41,1.08),(2.41,0.79),(2.42,1.20),(2.42,0.99),(2.43,0.88),
    (2.43,1.14),(2.44,1.04),(2.44,0.75),(2.45,1.26),(2.45,0.72),(2.45,0.50),(2.46,1.10),(2.46,0.93),(2.47,1.27),(2.47,1.01),
    (2.47,0.78),(2.48,1.19),(2.48,1.05),(2.49,1.12),(2.49,0.90),(2.50,1.20),(2.50,0.54),(2.51,1.20),(2.51,0.89),(2.51,0.84),
    (2.52,0.63),(2.52,0.57),(2.52,0.92),(2.53,0.68),(2.53,0.63),(2.54,0.72),(2.53,0.89),
]

# ---------------------------------------------------------------------------
# Chart layout (pixel geometry of each chart block)
# ---------------------------------------------------------------------------
W, H = 1104, 819
fig = plt.figure(figsize=(W / 100, H / 100), dpi=100)
fig.patch.set_facecolor("white")

LABEL_FONT = ["Lato", "DejaVu Sans"]
BIG_FONT = ["Liberation Sans", "DejaVu Sans"]

charts = [
    dict(data=obs_24014, tag="24014", title="(24014) 1999 RB118, 6/17/2015 UT", ylabel="Normalized Reflectance",
         style="new", frame=(7, 7, 366, 253), plot=(39, 29, 343, 226), xlim=(0.6, 2.6), ylim=(0.4, 1.6), ystep=0.2,
         title_xy=(181, 17), ylab_x=18, xlab_y=238, tag_xy=(42, 65)),
    dict(data=obs_25849, tag="25849", title="(25849) 2000 ET107, 1/2/2016 UT", ylabel="Normalized reflectance",
         style="new", frame=(399, 7, 735, 256), plot=(426, 29, 722, 227), xlim=(0.6, 2.6), ylim=(0.2, 1.5), ystep=0.1,
         title_xy=(545, 15), ylab_x=404, xlab_y=245, tag_xy=(424, 65)),
    dict(data=obs_26417, tag="26417", title="(26417) Michaelgord, 12/29/16 UT", ylabel="Normalized Reflectance",
         style="new", frame=(775, 9, 1130, 257), plot=(808, 32, 1118, 230), xlim=(0.6, 2.6), ylim=(0.2, 1.8), ystep=0.2,
         title_xy=(945, 22), ylab_x=786, xlab_y=245, tag_xy=(809, 68)),
    dict(data=obs_27025, tag="27025", title="(27025) 1998 QY77, 12/21/2016 UT", ylabel="Normalized Reflectance",
         style="new", frame=(7, 295, 365, 545), plot=(45, 318, 343, 517), xlim=(0.6, 2.6), ylim=(0.0, 1.6), ystep=0.1,
         title_xy=(182, 307), ylab_x=20, xlab_y=533, tag_xy=(43, 353)),
    dict(data=obs_34698_a, tag="34698", title="(34698) 2001 OD22, 1/15/2015 UT", ylabel="Normalized reflectance",
         style="old", frame=(392, 310, 741, 550), plot=(427, 333, 728, 516), xlim=(0.6, 2.7), ylim=(0.3, 1.5), ystep=0.1,
         title_xy=(566, 320), ylab_x=404, xlab_y=535, tag_xy=(426, 368)),
    dict(data=obs_34698_b, tag="34698", title="(34698) 2001 OD22, 1/16/2015 UT", ylabel="Normalized reflectance",
         style="old", frame=(775, 313, 1103, 546), plot=(809, 340, 1096, 517), xlim=(0.6, 2.7), ylim=(0.3, 1.6), ystep=0.2,
         title_xy=(923, 328), ylab_x=786, xlab_y=536, tag_xy=(810, 377)),
    dict(data=obs_36118_a, tag="36118", title="(36118) 1999 RE135, 1/15/2015 UT", ylabel="Normalized reflectance",
         style="old", frame=(8, 585, 363, 840), plot=(39, 609, 345, 791), xlim=(0.6, 2.7), ylim=(0.3, 1.7), ystep=0.1,
         title_xy=(176, 590), ylab_x=12, xlab_y=807, tag_xy=(44, 643)),
    dict(data=obs_36118_b, tag="36118", title="(36118) 1999 RE135, 1/19/2015 UT", ylabel="Normalized reflectance",
         style="old", frame=(392, 585, 738, 840), plot=(424, 609, 727, 791), xlim=(0.6, 2.7), ylim=(0.4, 1.4), ystep=0.1,
         title_xy=(563, 590), ylab_x=403, xlab_y=807, tag_xy=(424, 643)),
]


def fx(px):
    return px / W


def fy(py):
    return 1 - py / H


for c in charts:
    new = c["style"] == "new"
    fx0, fy0, fx1, fy1 = c["frame"]
    fig.patches.append(Rectangle((fx(fx0), fy(fy1)), fx(fx1) - fx(fx0), fy(fy0) - fy(fy1),
                                 transform=fig.transFigure, fill=False,
                                 edgecolor="#d9d9d9" if new else "#8c8c8c", linewidth=0.9, zorder=0))

    x0, y0, x1, y1 = c["plot"]
    ax = fig.add_axes([fx(x0), fy(y1), fx(x1) - fx(x0), fy(y0) - fy(y1)])
    ax.set_facecolor("none")
    ax.set_xlim(*c["xlim"])
    ax.set_ylim(*c["ylim"])
    ax.set_axisbelow(True)

    xt = np.round(np.arange(0.6, 2.61, 0.2), 2)
    yt = np.round(np.arange(c["ylim"][0], c["ylim"][1] + 1e-6, c["ystep"]), 2)
    ax.set_xticks(xt)
    ax.set_yticks(yt)
    ax.set_xticklabels([f"{v:.2f}" for v in xt])
    ax.set_yticklabels([f"{v:.2f}" for v in yt])

    wl, refl = zip(*c["data"])
    if new:
        for s in ax.spines.values():
            s.set_visible(False)
        ax.grid(True, color="#d9d9d9", linewidth=0.8)
        ax.tick_params(length=0, labelsize=4.2, labelcolor="#7f7f7f", pad=2)
        ax.scatter(wl, refl, s=5, c="black", marker="o", linewidths=0, zorder=3, clip_on=False)
        tcol = "#595959"
    else:
        ax.spines["top"].set_visible(False)
        ax.spines["right"].set_visible(False)
        for s in ("left", "bottom"):
            ax.spines[s].set_color("#8c8c8c")
            ax.spines[s].set_linewidth(0.8)
        ax.yaxis.grid(True, color="#8c8c8c", linewidth=0.8)
        ax.set_xticks(np.round(np.arange(0.6, 2.7, 0.04), 2), minor=True)
        ax.set_yticks(np.round(np.arange(c["ylim"][0], c["ylim"][1], c["ystep"] / 5), 3), minor=True)
        ax.tick_params(which="major", direction="out", length=2.5, width=0.6, color="#8c8c8c",
                       labelsize=4.2, labelcolor="#404040", pad=2)
        ax.tick_params(which="minor", direction="out", length=1.5, width=0.5, color="#8c8c8c")
        ax.scatter(wl, refl, s=12, c="black", marker="P", linewidths=0, zorder=3, clip_on=False)
        tcol = "#222222"

    tx, ty = c["title_xy"]
    fig.text(fx(tx), fy(ty), c["title"], ha="center", va="center", fontsize=7,
             color="#595959" if new else "#111111", family=LABEL_FONT)
    fig.text(fx(c["ylab_x"]), fy((y0 + y1) / 2), c["ylabel"], rotation=90, ha="center", va="center",
             fontsize=5, color="#7f7f7f" if new else tcol, family=LABEL_FONT)
    fig.text(fx((x0 + x1) / 2), fy(c["xlab_y"]), "Wavelength (microns)", ha="center", va="center",
             fontsize=5.2, color="#7f7f7f" if new else tcol, family=LABEL_FONT)
    gx, gy = c["tag_xy"]
    fig.text(fx(gx), fy(gy), c["tag"], ha="left", va="baseline", fontsize=22.5,
             color="#595959", family=BIG_FONT)

fig.savefig("out.png", dpi=100, facecolor="white")
